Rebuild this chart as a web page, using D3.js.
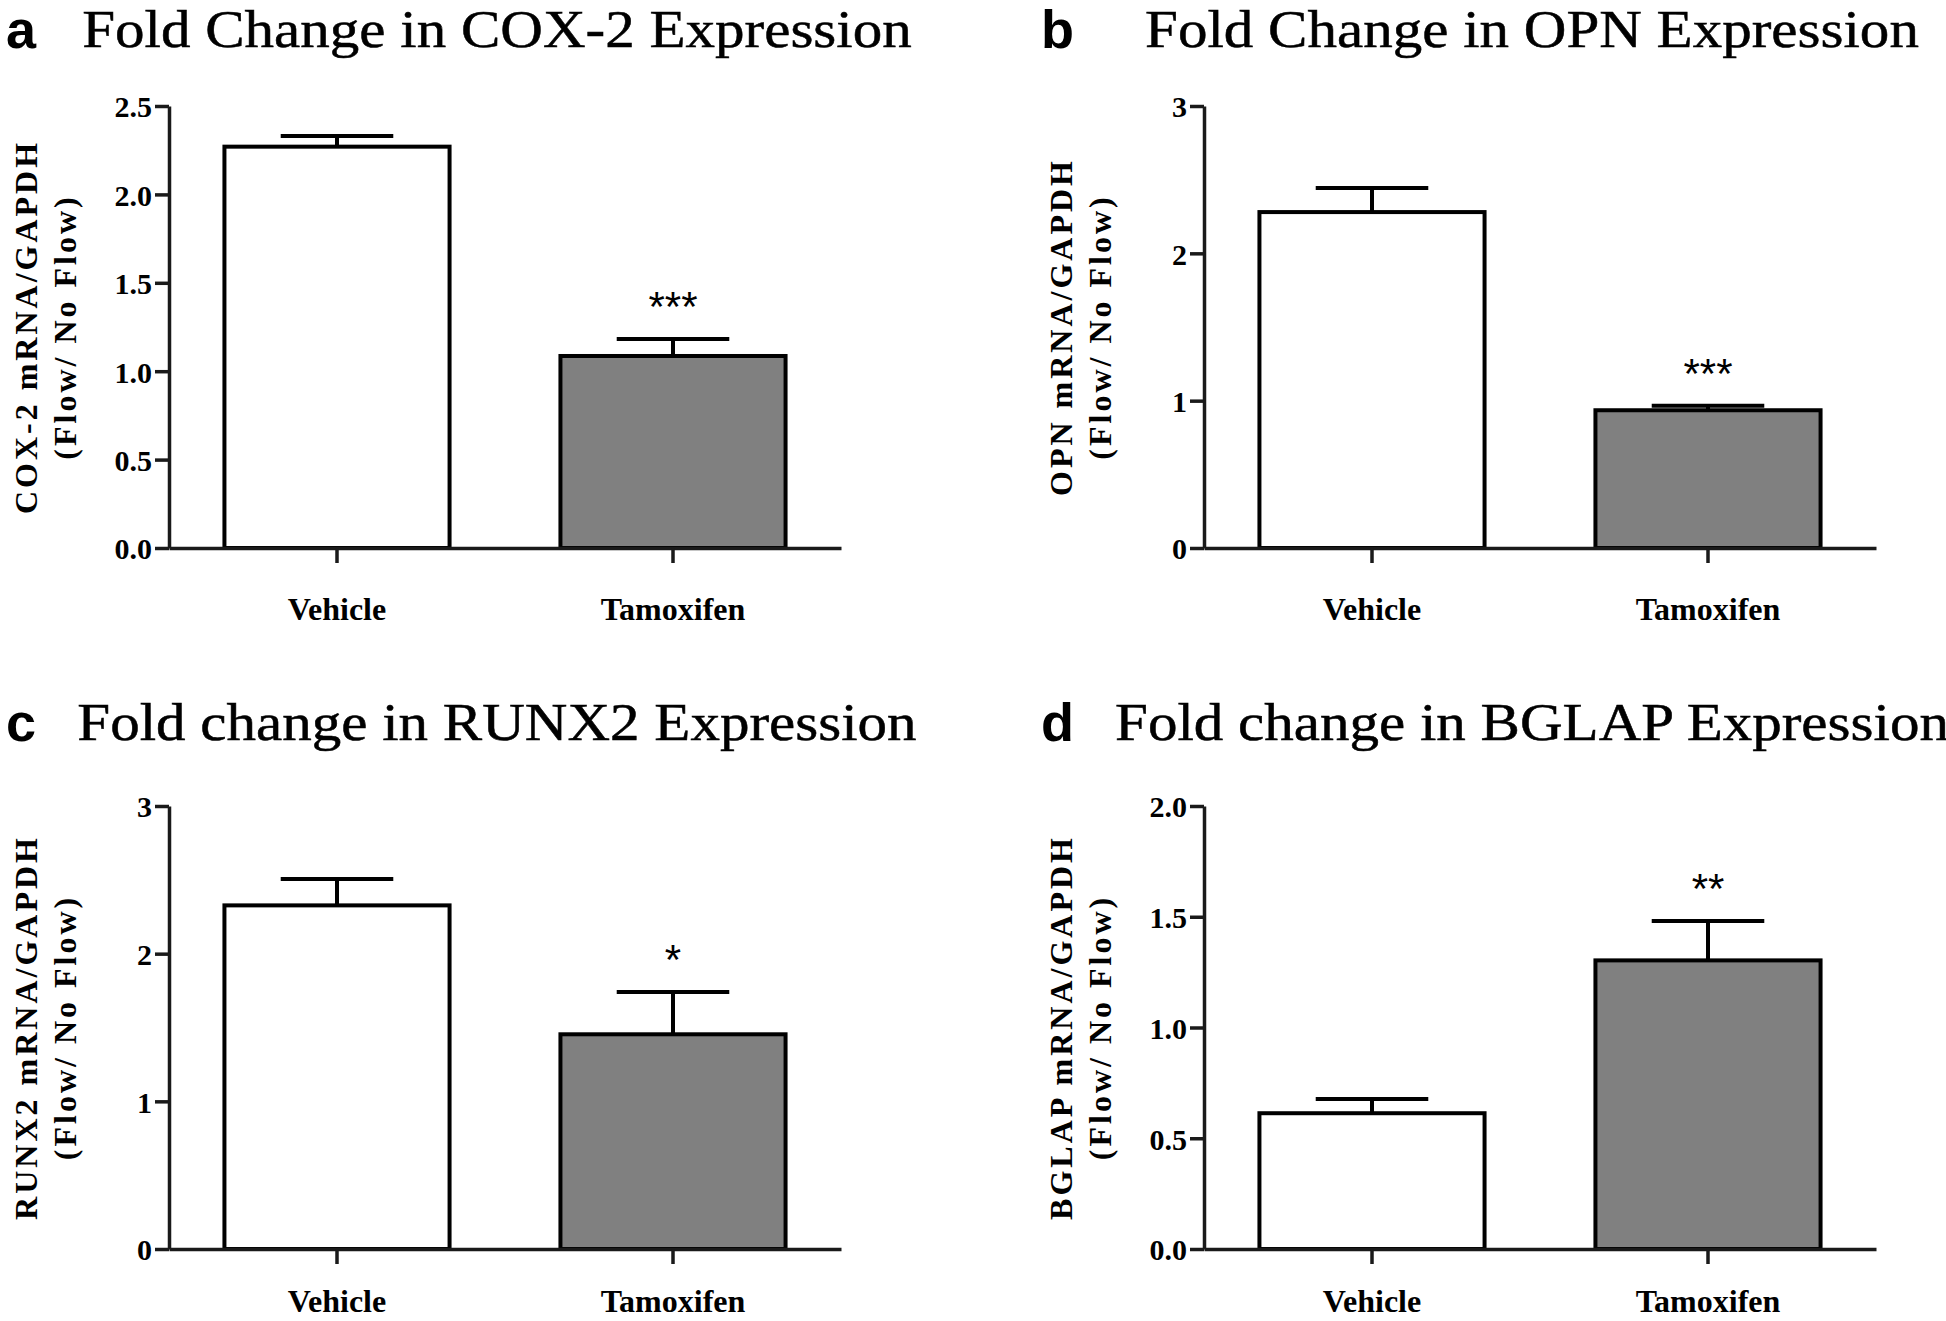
<!DOCTYPE html>
<html>
<head>
<meta charset="utf-8">
<script src="https://cdn.jsdelivr.net/npm/d3@7"></script>
<style>
  html, body { margin: 0; padding: 0; background: #fff; }
  svg { display: block; }
</style>
</head>
<body>
<svg id="chart" width="1946" height="1321"></svg>
<script>
// ---------- data ----------
const categories = ["Vehicle", "Tamoxifen"];
const panelLetters = ["a", "b", "c", "d"];
const titles = [
  "Fold Change in COX-2 Expression",
  "Fold Change in OPN Expression",
  "Fold change in RUNX2 Expression",
  "Fold change in BGLAP Expression"
];
const yLabelLine1 = ["COX-2 mRNA/GAPDH", "OPN mRNA/GAPDH", "RUNX2 mRNA/GAPDH", "BGLAP mRNA/GAPDH"];
const yLabelLine2 = "(Flow/ No Flow)";
const meansCOX2 = [2.27, 1.086];
const meansOPN = [2.28, 0.935];
const meansRUNX2 = [2.327, 1.454];
const meansBGLAP = [0.613, 1.303];
const errCOX2 = [0.06, 0.096];
const errOPN = [0.164, 0.03];
const errRUNX2 = [0.178, 0.286];
const errBGLAP = [0.064, 0.178];
const yMax = [2.5, 3, 3, 2.0];
const ticksCOX2 = [0, 0.5, 1.0, 1.5, 2.0, 2.5];
const ticksOPN = [0, 1, 2, 3];
const ticksRUNX2 = [0, 1, 2, 3];
const ticksBGLAP = [0, 0.5, 1.0, 1.5, 2.0];
const tickFormats = [".1f", "d", "d", ".1f"];
const starsCOX2 = ["", "***"];
const starsOPN = ["", "***"];
const starsRUNX2 = ["", "*"];
const starsBGLAP = ["", "**"];
const barFills = ["#ffffff", "#808080"];

const meansAll = [meansCOX2, meansOPN, meansRUNX2, meansBGLAP];
const errAll = [errCOX2, errOPN, errRUNX2, errBGLAP];
const ticksAll = [ticksCOX2, ticksOPN, ticksRUNX2, ticksBGLAP];
const starsAll = [starsCOX2, starsOPN, starsRUNX2, starsBGLAP];

// ---------- layout ----------
const svg = d3.select("#chart");
svg.append("rect").attr("width", 1946).attr("height", 1321).attr("fill", "#fff");

const colX = [169, 1204];
const rowTop = [106, 806];
const rowBottom = [548, 1249];
const rowTitleY = [47, 740];
const plotW = 672;
const H = 1321;
const serif = "'Liberation Serif', 'Times New Roman', serif";
const sans = "'Liberation Sans', Arial, sans-serif";
const axisW = 3.5;
const barW = 4;
const titleStretch = 1.135;

for (let p = 0; p < 4; p++) {
  const col = p % 2, row = Math.floor(p / 2);
  const ax = colX[col];
  const top = rowTop[row], bottom = rowBottom[row];
  const g = svg.append("g");

  const x = d3.scaleBand().domain(categories).range([ax, ax + plotW]).paddingInner(0.33).paddingOuter(0.165);
  const y = d3.scaleLinear().domain([0, yMax[p]]).range([bottom, top]);

  // panel letter
  g.append("text").attr("x", ax - 163).attr("y", rowTitleY[row] + 1)
    .attr("font-family", sans).attr("font-weight", "bold").attr("font-size", 54)
    .attr("fill", "#000").text(panelLetters[p]);

  // title
  const t = g.append("text").attr("x", ax + plotW / 2 - 8).attr("y", rowTitleY[row])
    .attr("text-anchor", "middle").attr("font-family", serif).attr("font-size", 52)
    .attr("fill", "#000").attr("stroke", "#000").attr("stroke-width", 0.5)
    .text(titles[p]);
  const nat = t.node().getComputedTextLength();
  t.attr("textLength", nat * titleStretch).attr("lengthAdjust", "spacingAndGlyphs");

  // bars
  const data = categories.map((c, i) => ({ c, m: meansAll[p][i], e: errAll[p][i], s: starsAll[p][i], f: barFills[i] }));
  g.selectAll("rect.bar").data(data).enter().append("rect")
    .attr("class", "bar")
    .attr("x", d => x(d.c)).attr("width", x.bandwidth())
    .attr("y", d => y(d.m)).attr("height", d => y(0) - y(d.m))
    .attr("fill", d => d.f).attr("stroke", "#000").attr("stroke-width", barW);

  // error bars
  const capW = x.bandwidth() * 0.5;
  g.selectAll("line.err").data(data).enter().append("line")
    .attr("x1", d => x(d.c) + x.bandwidth() / 2).attr("x2", d => x(d.c) + x.bandwidth() / 2)
    .attr("y1", d => y(d.m)).attr("y2", d => y(d.m + d.e))
    .attr("stroke", "#000").attr("stroke-width", barW);
  g.selectAll("line.cap").data(data).enter().append("line")
    .attr("x1", d => x(d.c) + x.bandwidth() / 2 - capW / 2).attr("x2", d => x(d.c) + x.bandwidth() / 2 + capW / 2)
    .attr("y1", d => y(d.m + d.e)).attr("y2", d => y(d.m + d.e))
    .attr("stroke", "#000").attr("stroke-width", barW);

  // significance stars
  g.selectAll("text.star").data(data.filter(d => d.s)).enter().append("text")
    .attr("x", d => x(d.c) + x.bandwidth() / 2).attr("y", d => y(d.m + d.e) - 18)
    .attr("text-anchor", "middle").attr("font-family", sans).attr("font-size", 42)
    .attr("fill", "#000").text(d => d.s);

  // y axis
  const yAxis = d3.axisLeft(y).tickValues(ticksAll[p]).tickFormat(d3.format(tickFormats[p]))
    .tickSize(14).tickSizeOuter(0).tickPadding(3);
  const ya = g.append("g").attr("transform", `translate(${ax},0)`).call(yAxis);
  ya.select(".domain").attr("stroke", "#1a1a1a").attr("stroke-width", axisW);
  ya.selectAll(".tick line").attr("stroke", "#1a1a1a").attr("stroke-width", axisW);
  ya.selectAll(".tick text").attr("font-family", serif).attr("font-weight", "bold")
    .attr("font-size", 30).attr("fill", "#000").attr("dy", "0.36em");

  // x axis
  const xAxis = d3.axisBottom(x).tickSize(15).tickSizeOuter(0).tickPadding(0);
  const xa = g.append("g").attr("transform", `translate(0,${bottom})`).call(xAxis);
  xa.select(".domain").attr("stroke", "#1a1a1a").attr("stroke-width", axisW);
  xa.selectAll(".tick line").attr("stroke", "#1a1a1a").attr("stroke-width", axisW);
  xa.selectAll(".tick text").attr("font-family", serif).attr("font-weight", "bold")
    .attr("font-size", 32).attr("fill", "#000")
    .attr("y", Math.min(72, H - 9 - bottom)).attr("dy", null);

  // y label (two lines, rotated)
  const cy = (top + bottom) / 2;
  g.append("text").attr("transform", `translate(${ax - 132},${cy}) rotate(-90)`)
    .attr("text-anchor", "middle").attr("font-family", serif).attr("font-weight", "bold")
    .attr("font-size", 32).attr("letter-spacing", 3).attr("fill", "#000").text(yLabelLine1[p]);
  g.append("text").attr("transform", `translate(${ax - 93},${cy}) rotate(-90)`)
    .attr("text-anchor", "middle").attr("font-family", serif).attr("font-weight", "bold")
    .attr("font-size", 32).attr("letter-spacing", 3).attr("fill", "#000").text(yLabelLine2);
}
</script>
</body>
</html>
